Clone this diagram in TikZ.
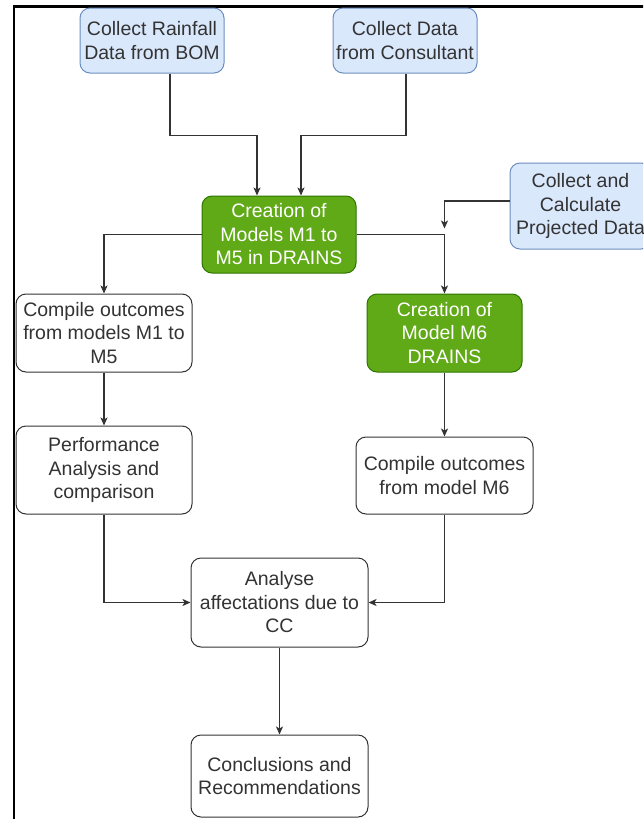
\documentclass[tikz,border=0pt]{standalone}
\usepackage{fontspec}
\setmainfont{Liberation Sans}
\usetikzlibrary{arrows.meta}
\definecolor{txt}{HTML}{333333}
\definecolor{bluefill}{HTML}{DAE8FC}
\definecolor{blueline}{HTML}{6C8EBF}
\definecolor{greenfill}{HTML}{60A917}
\definecolor{greenline}{HTML}{2D7600}
\tikzset{
  box/.style={rectangle, rounded corners=10pt, align=center, inner sep=2pt,
    font=\fontsize{19.5}{23.5}\selectfont, line width=1pt},
  wbox/.style={box, draw=txt, fill=white, text=txt},
  bbox/.style={box, draw=blueline, fill=bluefill, text=txt},
  gbox/.style={box, draw=greenline, fill=greenfill, text=white},
  arr/.style={draw=txt, line width=1.1pt, -{Stealth[length=8pt,width=7pt,inset=2pt]}},
}
\begin{document}
\begin{tikzpicture}[x=1pt,y=1pt]
\useasboundingbox (0,0) rectangle (643,-819);
\clip (0,0) rectangle (643,-819);
\fill[white] (0,0) rectangle (643,-819);
\draw[line width=2.5pt, black] (14,-830) -- (14,-6.5) -- (660,-6.5);

\node[bbox, minimum width=144pt, minimum height=65pt] (a) at (152,-40.5) {Collect Rainfall\\Data from BOM};
\node[bbox, minimum width=144pt, minimum height=65pt] (b) at (405,-40.5) {Collect Data\\from Consultant};
\node[gbox, minimum width=154pt, minimum height=77pt] (g1) at (279,-234.5) {Creation of\\Models M1 to\\M5 in DRAINS};
\node[bbox, minimum width=141pt, minimum height=86pt] (c) at (580.5,-206) {Collect and\\Calculate\\Projected Data};
\node[gbox, minimum width=155pt, minimum height=78pt] (m6) at (444.5,-333) {Creation of\\Model M6\\DRAINS};
\node[wbox, minimum width=176pt, minimum height=78pt] (d) at (104,-333) {Compile outcomes\\from models M1 to\\M5};
\node[wbox, minimum width=176pt, minimum height=88pt] (e) at (104,-470) {Performance\\Analysis and\\comparison};
\node[wbox, minimum width=177pt, minimum height=77pt] (f) at (444.5,-475.5) {Compile outcomes\\from model M6};
\node[wbox, minimum width=177pt, minimum height=89pt] (g) at (279.5,-602.5) {Analyse\\affectations due to\\CC};
\node[wbox, minimum width=177pt, minimum height=82pt] (h) at (279.5,-776) {Conclusions and\\Recommendations};

\coordinate (j) at (g1.east -| m6.north);

\draw[arr] ([xshift=18pt]a.south) -- ++(0,-62pt) -| ([xshift=-22pt]g1.north);
\draw[arr] ([xshift=1pt]b.south) -- ++(0,-62pt) -| ([xshift=22pt]g1.north);
\draw[arr] ([yshift=5pt]c.west) -| ([yshift=6pt]j);
\draw[arr] (g1.east) -| (m6.north);
\draw[arr] (g1.west) -| (d.north);
\draw[arr] (d) -- (e);
\draw[arr] (m6) -- (f);
\draw[arr] (e.south) |- (g.west);
\draw[arr] (f.south) |- (g.east);
\draw[arr] (g) -- (h);
\end{tikzpicture}
\end{document}
